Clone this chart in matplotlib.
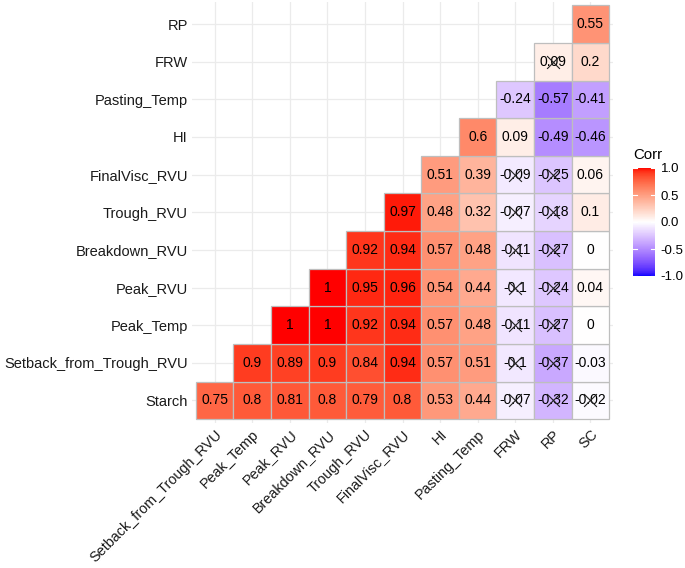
import numpy as np
import matplotlib
matplotlib.use("Agg")
import matplotlib.pyplot as plt
from matplotlib.colors import ListedColormap, Normalize
from matplotlib.patches import Rectangle
import matplotlib.colorbar as mcolorbar

plt.rcParams['font.family'] = ['Liberation Sans', 'DejaVu Sans']

# ---- data ----
row_labels = ["Starch", "Setback_from_Trough_RVU", "Peak_Temp", "Peak_RVU",
              "Breakdown_RVU", "Trough_RVU", "FinalVisc_RVU", "HI",
              "Pasting_Temp", "FRW", "RP"]
col_labels = ["Setback_from_Trough_RVU", "Peak_Temp", "Peak_RVU",
              "Breakdown_RVU", "Trough_RVU", "FinalVisc_RVU", "HI",
              "Pasting_Temp", "FRW", "RP", "SC"]

# each row starts at the column with the same index (lower triangle)
r_starch = [0.75, 0.8, 0.81, 0.8, 0.79, 0.8, 0.53, 0.44, -0.07, -0.32, -0.02]
r_setback = [0.9, 0.89, 0.9, 0.84, 0.94, 0.57, 0.51, -0.1, -0.37, -0.03]
r_peak_temp = [1, 1, 0.92, 0.94, 0.57, 0.48, -0.11, -0.27, 0]
r_peak_rvu = [1, 0.95, 0.96, 0.54, 0.44, -0.1, -0.24, 0.04]
r_breakdown = [0.92, 0.94, 0.57, 0.48, -0.11, -0.27, 0]
r_trough = [0.97, 0.48, 0.32, -0.07, -0.18, 0.1]
r_finalvisc = [0.51, 0.39, -0.09, -0.25, 0.06]
r_hi = [0.6, 0.09, -0.49, -0.46]
r_pasting = [-0.24, -0.57, -0.41]
r_frw = [0.09, 0.2]
r_rp = [0.55]
rows = [r_starch, r_setback, r_peak_temp, r_peak_rvu, r_breakdown, r_trough,
        r_finalvisc, r_hi, r_pasting, r_frw, r_rp]

# insignificant cells: (row label, column label)
insignificant = [
    ("FRW", "RP"),
    ("FinalVisc_RVU", "FRW"), ("FinalVisc_RVU", "RP"),
    ("Trough_RVU", "FRW"), ("Trough_RVU", "RP"),
    ("Breakdown_RVU", "FRW"), ("Breakdown_RVU", "RP"),
    ("Peak_RVU", "FRW"), ("Peak_RVU", "RP"),
    ("Peak_Temp", "FRW"), ("Peak_Temp", "RP"),
    ("Setback_from_Trough_RVU", "FRW"), ("Setback_from_Trough_RVU", "RP"),
    ("Starch", "FRW"), ("Starch", "RP"), ("Starch", "SC"),
]

cbar_ticks = [-1.0, -0.5, 0.0, 0.5, 1.0]

# ---- Lab-interpolated diverging palette (blue - white - red) ----
def srgb_to_lab(rgb):
    rgb = np.asarray(rgb, float)
    lin = np.where(rgb <= 0.04045, rgb / 12.92, ((rgb + 0.055) / 1.055) ** 2.4)
    M = np.array([[0.4124, 0.3576, 0.1805],
                  [0.2126, 0.7152, 0.0722],
                  [0.0193, 0.1192, 0.9505]])
    xyz = M @ lin
    wp = np.array([0.95047, 1.0, 1.08883])
    t = xyz / wp
    f = np.where(t > 216 / 24389, np.cbrt(t), (24389 / 27 * t + 16) / 116)
    return np.array([116 * f[1] - 16, 500 * (f[0] - f[1]), 200 * (f[1] - f[2])])

def lab_to_srgb(lab):
    L, a, b = lab
    fy = (L + 16) / 116
    fx = fy + a / 500
    fz = fy - b / 200
    def finv(f):
        return np.where(f ** 3 > 216 / 24389, f ** 3, (116 * f - 16) / (24389 / 27))
    wp = np.array([0.95047, 1.0, 1.08883])
    xyz = np.array([finv(fx), finv(fy), finv(fz)]) * wp
    Minv = np.array([[3.2406, -1.5372, -0.4986],
                     [-0.9689, 1.8758, 0.0415],
                     [0.0557, -0.2040, 1.0570]])
    lin = Minv @ xyz
    lin = np.clip(lin, 0, 1)
    rgb = np.where(lin <= 0.0031308, 12.92 * lin, 1.055 * lin ** (1 / 2.4) - 0.055)
    return np.clip(rgb, 0, 1)

lab_blue = srgb_to_lab([0, 0, 1])
lab_white = srgb_to_lab([1, 1, 1])
lab_red = srgb_to_lab([1, 0, 0])
cols = []
for v in np.linspace(-1, 1, 256):
    if v < 0:
        t = -v
        lab = lab_white + (lab_blue - lab_white) * t
    else:
        t = v
        lab = lab_white + (lab_red - lab_white) * t
    cols.append(lab_to_srgb(lab))
cmap = ListedColormap(cols)
norm = Normalize(-1, 1)

# ---- figure ----
fig = plt.figure(figsize=(6.85, 5.68), dpi=100)
W, H = 685, 568
px_l, px_r, px_t, px_b = 192, 613, 1.5, 423
ax = fig.add_axes([px_l / W, 1 - px_b / H, (px_r - px_l) / W, (px_b - px_t) / H])
n = len(col_labels)
ax.set_xlim(-0.6, n - 0.4)
ax.set_ylim(-0.6, n - 0.4)
ax.set_facecolor("white")

# grid
for i in range(n):
    ax.axvline(i, color="#EBEBEB", lw=0.9, zorder=0)
    ax.axhline(i, color="#EBEBEB", lw=0.9, zorder=0)

for ri, vals in enumerate(rows):
    for k, v in enumerate(vals):
        ci = ri + k
        ax.add_patch(Rectangle((ci - 0.5, ri - 0.5), 1, 1, facecolor=cmap(norm(v)),
                               edgecolor="#BEBEBE", lw=0.9, zorder=2))
        txt = f"{v:g}"
        ax.text(ci, ri, txt, ha="center", va="center", fontsize=10,
                color="black", zorder=4)

for rl, cl in insignificant:
    ri = row_labels.index(rl)
    ci = col_labels.index(cl)
    ax.scatter([ci], [ri], marker="x", s=85, color="#222222", linewidths=0.8, zorder=5)

ax.set_xticks(range(n))
ax.set_xticklabels(col_labels, rotation=45, ha="right", va="top",
                   rotation_mode="anchor", fontsize=10.4, color="#1a1a1a")
ax.set_yticks(range(n))
ax.set_yticklabels(row_labels, fontsize=10.5, color="#1a1a1a")
ax.tick_params(axis="y", length=0, pad=3)
ax.tick_params(axis="x", length=0, pad=3)
for s in ax.spines.values():
    s.set_visible(False)

# colorbar
cax = fig.add_axes([633 / W, 1 - 276 / H, 22 / W, 108 / H])
cb = mcolorbar.ColorbarBase(cax, cmap=cmap, norm=norm, ticks=cbar_ticks)
cb.outline.set_visible(False)
cb.ax.tick_params(length=0, labelsize=9.5, pad=4)
cb.ax.set_yticklabels([f"{t:.1f}" for t in cbar_ticks])
for t in cbar_ticks:
    cax.plot([0, 0.2], [t, t], color="white", lw=0.8, transform=cax.get_yaxis_transform())
    cax.plot([0.8, 1.0], [t, t], color="white", lw=0.8, transform=cax.get_yaxis_transform())
fig.text(633 / W, 1 - 155 / H, "Corr", fontsize=10.8, ha="left", va="center")

fig.savefig("out.png", dpi=100)
